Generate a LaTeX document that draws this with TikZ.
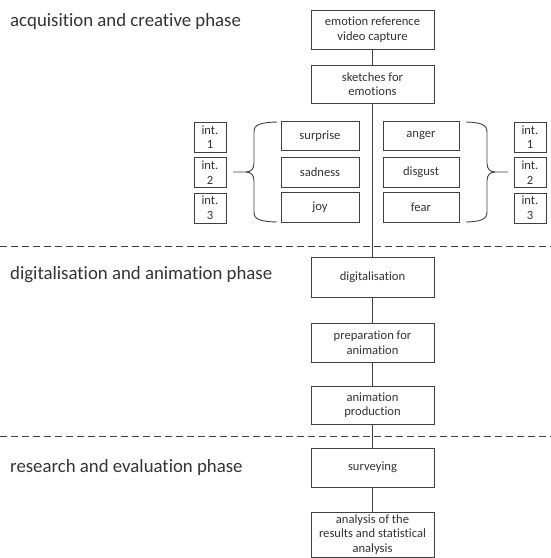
\documentclass[tikz,border=0pt]{standalone}
\usepackage{fontspec}
\setmainfont[Ligatures=NoCommon]{Carlito}
\definecolor{ln}{HTML}{404040}
\definecolor{tx}{HTML}{333333}
\begin{document}
\begin{tikzpicture}[x=1pt,y=-1pt,
  box/.style={draw=ln,line width=0.9pt,text=tx,align=center,font=\fontsize{12.6}{14.6}\selectfont,inner sep=0pt},
  intbox/.style={draw=ln,line width=0.9pt,text=tx,align=center,font=\fontsize{12.6}{14.6}\selectfont,inner sep=0pt,minimum width=32pt,minimum height=30pt},
  phase/.style={text=tx,anchor=west,font=\fontsize{18.8}{22}\selectfont,inner sep=0pt},
  conn/.style={draw=ln,line width=0.9pt},
  sep/.style={draw=ln,line width=0.8pt,dash pattern=on 7pt off 4pt}]
\useasboundingbox (0,0) rectangle (551,558);
% main boxes
\node[box,minimum width=123pt,minimum height=39pt] (cap) at (372.5,29.5) {emotion reference\\video capture};
\node[box,minimum width=123pt,minimum height=38pt] (sk) at (372.5,84) {sketches for\\emotions};
\node[box,minimum width=123pt,minimum height=40pt] (dig) at (372.5,277) {digitalisation};
\node[box,minimum width=123pt,minimum height=39pt] (prep) at (372.5,342.5) {preparation for\\animation};
\node[box,minimum width=123pt,minimum height=38pt] (prod) at (372.5,405) {animation\\production};
\node[box,minimum width=123pt,minimum height=39pt] (surv) at (372.5,467.5) {surveying};
\node[box,minimum width=123pt,minimum height=45pt] (ana) at (372.5,534.5) {analysis of the\\results and statistical\\analysis};
% emotion boxes
\node[box,minimum width=78pt,minimum height=29pt] (sur) at (320,136) {surprise};
\node[box,minimum width=78pt,minimum height=30pt] (sad) at (320,172) {sadness};
\node[box,minimum width=78pt,minimum height=30pt] (joy) at (320,207) {joy};
\node[box,minimum width=76pt,minimum height=29pt] (ang) at (421,136) {anger};
\node[box,minimum width=76pt,minimum height=30pt] (dis) at (421,172) {disgust};
\node[box,minimum width=76pt,minimum height=30pt] (fea) at (421,207) {fear};
% intensity boxes
\node[intbox] (l1) at (210,137) {int.\\1};
\node[intbox] (l2) at (210,172.5) {int.\\2};
\node[intbox] (l3) at (210,208) {int.\\3};
\node[intbox] (r1) at (530,137) {int.\\1};
\node[intbox] (r2) at (530,172.5) {int.\\2};
\node[intbox] (r3) at (530,208) {int.\\3};
% connectors
\draw[conn] (cap) -- (sk);
\draw[conn] (sk) -- (dig);
\draw[conn] (dig) -- (prep);
\draw[conn] (prep) -- (prod);
\draw[conn] (prod) -- (surv);
\draw[conn] (surv) -- (ana);
% braces
\coordinate (lt) at (233,172);
\coordinate (rt) at (508,172);
\draw[conn] (lt) -- (246,172) .. controls (251,172) and (254,169) .. (254,163) -- (254,132) .. controls (254,125) and (259,122.5) .. (277,122);
\draw[conn] (246,172) .. controls (251,172) and (254,175) .. (254,181) -- (254,212) .. controls (254,219) and (259,221.5) .. (277,222);
\draw[conn] (rt) -- (495,172) .. controls (490,172) and (487,169) .. (487,163) -- (487,132) .. controls (487,125) and (482,122.5) .. (466,122);
\draw[conn] (495,172) .. controls (490,172) and (487,175) .. (487,181) -- (487,212) .. controls (487,219) and (482,221.5) .. (466,222);
% separators
\draw[sep] (0,246) -- (551,246);
\draw[sep] (0,436) -- (551,436);
% phase labels
\node[phase] (p1) at (10,21) {acquisition and creative phase};
\node[phase] (p2) at (10,275) {digitalisation and animation phase};
\node[phase] (p3) at (10,467) {research and evaluation phase};
\end{tikzpicture}
\end{document}
